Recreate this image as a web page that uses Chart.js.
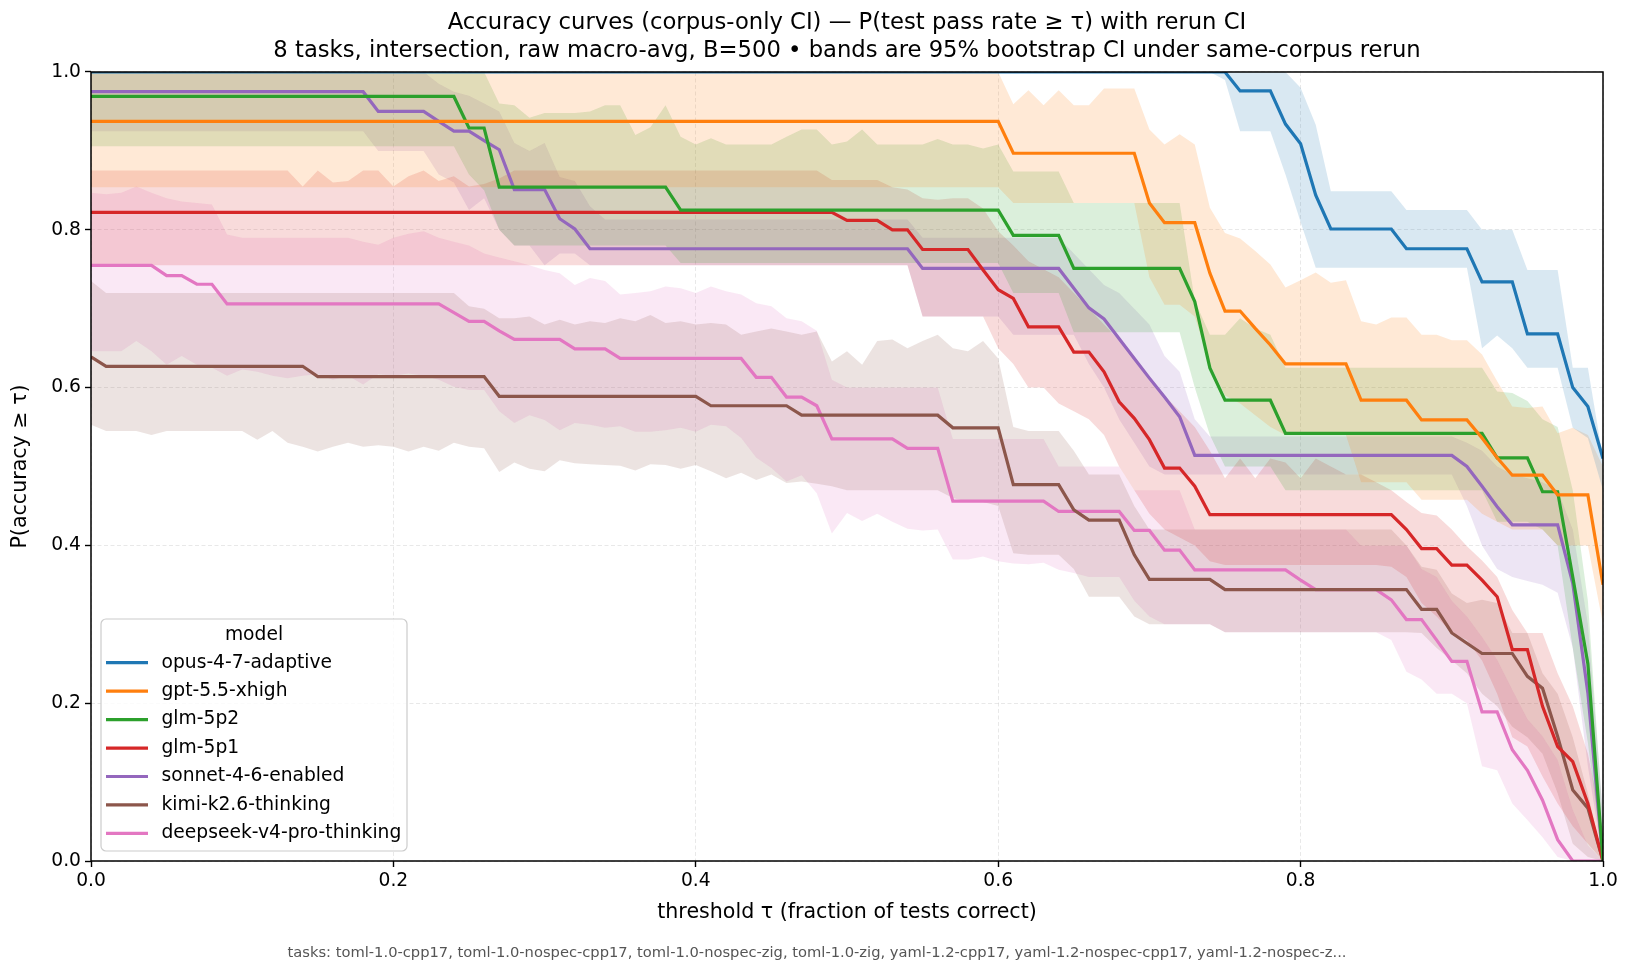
<html><head><meta charset="UTF-8">
<title>Accuracy curves (corpus-only CI)</title>
<style>
    body, html {
        margin: 0;
        padding: 0;
        background-color: #fff;
    }
    #wrap {
        width: 1634px;
        height: 978px;
    }
</style>
<script src="https://cdn.jsdelivr.net/npm/chart.js@4"></script>
</head>
<body>
<div id="wrap"><canvas id="accChart" width="1634" height="978"></canvas></div>
<script>
// threshold grid 0.00 .. 1.00
const TAU = Array.from({length: 101}, (_, i) => i / 100);
const X_TICKS = [0, 0.2, 0.4, 0.6, 0.8, 1.0];
const Y_TICKS = [0, 0.2, 0.4, 0.6, 0.8, 1.0];

const MODELS = ['opus-4-7-adaptive', 'gpt-5.5-xhigh', 'glm-5p2', 'glm-5p1',
                'sonnet-4-6-enabled', 'kimi-k2.6-thinking', 'deepseek-v4-pro-thinking'];
const COLORS = ['#1f77b4', '#ff7f0e', '#2ca02c', '#d62728', '#9467bd', '#8c564b', '#e377c2'];

const TITLE = ['Accuracy curves (corpus-only CI) \u2014 P(test pass rate \u2265 \u03c4) with rerun CI',
               '8 tasks, intersection, raw macro-avg, B=500 \u2022 bands are 95% bootstrap CI under same-corpus rerun'];
const X_LABEL = 'threshold \u03c4 (fraction of tests correct)';
const Y_LABEL = 'P(accuracy \u2265 \u03c4)';
const LEGEND_TITLE = 'model';
const FOOTER = 'tasks: toml-1.0-cpp17, toml-1.0-nospec-cpp17, toml-1.0-nospec-zig, toml-1.0-zig, yaml-1.2-cpp17, yaml-1.2-nospec-cpp17, yaml-1.2-nospec-z...';

// opus-4-7-adaptive
const OPUS = [
 1,1,1,1,1,1,1,1,1,1,
 1,1,1,1,1,1,1,1,1,1,
 1,1,1,1,1,1,1,1,1,1,
 1,1,1,1,1,1,1,1,1,1,
 1,1,1,1,1,1,1,1,1,1,
 1,1,1,1,1,1,1,1,1,1,
 1,1,1,1,1,1,1,1,1,1,
 1,1,1,1,1,1,0.976,0.976,0.976,0.934,
 0.909,0.844,0.801,0.801,0.801,0.801,0.801,0.776,0.776,0.776,
 0.776,0.776,0.734,0.734,0.734,0.668,0.668,0.668,0.600,0.576,
 0.51];
const OPUS_HI = [
 1,1,1,1,1,1,1,1,1,1,
 1,1,1,1,1,1,1,1,1,1,
 1,1,1,1,1,1,1,1,1,1,
 1,1,1,1,1,1,1,1,1,1,
 1,1,1,1,1,1,1,1,1,1,
 1,1,1,1,1,1,1,1,1,1,
 1,1,1,1,1,1,1,1,1,1,
 1,1,1,1,1,1,1,1,1,1,
 0.98,0.933,0.849,0.849,0.849,0.849,0.849,0.825,0.825,0.825,
 0.825,0.825,0.80,0.80,0.80,0.749,0.749,0.749,0.625,0.625,
 0.51];
const OPUS_LO = [
 1,1,1,1,1,1,1,1,1,1,
 1,1,1,1,1,1,1,1,1,1,
 1,1,1,1,1,1,1,1,1,1,
 1,1,1,1,1,1,1,1,1,1,
 1,1,1,1,1,1,1,1,1,1,
 1,1,1,1,1,1,1,1,1,1,
 1,1,1,1,1,1,1,1,1,1,
 1,1,1,1,1,0.99,0.925,0.925,0.925,0.87,
 0.81,0.752,0.752,0.752,0.752,0.752,0.752,0.752,0.752,0.752,
 0.752,0.752,0.65,0.666,0.65,0.625,0.625,0.625,0.549,0.536,
 0.47];

// gpt-5.5-xhigh
const GPT = [
 0.9375,0.9375,0.9375,0.9375,0.9375,0.9375,0.9375,0.9375,0.9375,0.9375,
 0.9375,0.9375,0.9375,0.9375,0.9375,0.9375,0.9375,0.9375,0.9375,0.9375,
 0.9375,0.9375,0.9375,0.9375,0.9375,0.9375,0.9375,0.9375,0.9375,0.9375,
 0.9375,0.9375,0.9375,0.9375,0.9375,0.9375,0.9375,0.9375,0.9375,0.9375,
 0.9375,0.9375,0.9375,0.9375,0.9375,0.9375,0.9375,0.9375,0.9375,0.9375,
 0.9375,0.9375,0.9375,0.9375,0.9375,0.9375,0.9375,0.9375,0.9375,0.9375,
 0.9375,0.897,0.897,0.897,0.897,0.897,0.897,0.897,0.897,0.897,
 0.834,0.809,0.809,0.809,0.745,0.697,0.697,0.675,0.654,0.630,
 0.630,0.630,0.630,0.630,0.584,0.584,0.584,0.584,0.559,0.559,
 0.559,0.559,0.536,0.511,0.489,0.489,0.489,0.464,0.464,0.464,
 0.35];
const GPT_HI = [
 1,1,1,1,1,1,1,1,1,1,
 1,1,1,1,1,1,1,1,1,1,
 1,1,1,1,1,1,1,1,1,1,
 1,1,1,1,1,1,1,1,1,1,
 1,1,1,1,1,1,1,1,1,1,
 1,1,1,1,1,1,1,1,1,1,
 1,0.959,0.977,0.958,0.977,0.958,0.958,0.979,0.979,0.979,
 0.927,0.908,0.921,0.908,0.828,0.796,0.789,0.773,0.756,0.727,
 0.736,0.746,0.733,0.736,0.684,0.68,0.689,0.689,0.667,0.667,
 0.66,0.66,0.642,0.608,0.576,0.574,0.576,0.542,0.549,0.54,
 0.50];
const GPT_LO = [
 0.854,0.854,0.854,0.854,0.854,0.854,0.854,0.854,0.854,0.854,
 0.854,0.854,0.854,0.854,0.854,0.854,0.854,0.854,0.854,0.854,
 0.854,0.854,0.854,0.854,0.854,0.854,0.854,0.854,0.854,0.854,
 0.854,0.854,0.854,0.854,0.854,0.854,0.854,0.854,0.854,0.854,
 0.854,0.854,0.854,0.854,0.854,0.854,0.854,0.854,0.854,0.854,
 0.854,0.854,0.854,0.854,0.854,0.854,0.854,0.854,0.854,0.854,
 0.854,0.834,0.834,0.834,0.834,0.834,0.834,0.834,0.834,0.834,
 0.74,0.705,0.705,0.69,0.63,0.59,0.58,0.565,0.55,0.54,
 0.54,0.54,0.54,0.54,0.48,0.48,0.48,0.48,0.458,0.458,
 0.458,0.458,0.44,0.43,0.42,0.42,0.42,0.40,0.40,0.40,
 0.30];

// glm-5p2
const GLM52 = [
 0.969,0.969,0.969,0.969,0.969,0.969,0.969,0.969,0.969,0.969,
 0.969,0.969,0.969,0.969,0.969,0.969,0.969,0.969,0.969,0.969,
 0.969,0.969,0.969,0.969,0.969,0.929,0.929,0.854,0.854,0.854,
 0.854,0.854,0.854,0.854,0.854,0.854,0.854,0.854,0.854,0.825,
 0.825,0.825,0.825,0.825,0.825,0.825,0.825,0.825,0.825,0.825,
 0.825,0.825,0.825,0.825,0.825,0.825,0.825,0.825,0.825,0.825,
 0.825,0.793,0.793,0.793,0.793,0.751,0.751,0.751,0.751,0.751,
 0.751,0.751,0.751,0.709,0.625,0.584,0.584,0.584,0.584,0.542,
 0.542,0.542,0.542,0.542,0.542,0.542,0.542,0.542,0.542,0.542,
 0.542,0.542,0.542,0.511,0.511,0.511,0.468,0.468,0.36,0.25,
 0];
const GLM52_HI = [
 1,1,1,1,1,1,1,1,1,1,
 1,1,1,1,1,1,1,1,1,1,
 1,1,1,1,1,1,1,0.96,0.958,0.942,
 0.948,0.948,0.948,0.95,0.958,0.958,0.92,0.93,0.958,0.918,
 0.908,0.916,0.908,0.908,0.908,0.908,0.918,0.927,0.927,0.908,
 0.912,0.927,0.908,0.908,0.908,0.908,0.915,0.908,0.908,0.903,
 0.908,0.874,0.874,0.874,0.874,0.834,0.834,0.834,0.834,0.834,
 0.834,0.834,0.834,0.71,0.667,0.667,0.688,0.675,0.667,0.625,
 0.625,0.625,0.625,0.625,0.625,0.625,0.625,0.625,0.625,0.625,
 0.625,0.625,0.625,0.595,0.593,0.583,0.56,0.55,0.47,0.33,
 0.05];
const GLM52_LO = [
 0.906,0.906,0.906,0.906,0.906,0.906,0.906,0.906,0.906,0.906,
 0.906,0.906,0.906,0.906,0.906,0.906,0.906,0.906,0.906,0.906,
 0.906,0.906,0.906,0.906,0.906,0.87,0.85,0.80,0.78,0.78,
 0.78,0.78,0.78,0.78,0.78,0.78,0.78,0.78,0.78,0.758,
 0.758,0.758,0.758,0.758,0.758,0.758,0.758,0.758,0.758,0.758,
 0.758,0.758,0.758,0.758,0.758,0.758,0.758,0.758,0.758,0.758,
 0.758,0.72,0.72,0.72,0.72,0.67,0.67,0.67,0.67,0.67,
 0.67,0.67,0.67,0.60,0.54,0.50,0.50,0.50,0.50,0.47,
 0.47,0.47,0.47,0.47,0.47,0.47,0.47,0.47,0.47,0.47,
 0.47,0.47,0.47,0.43,0.43,0.43,0.42,0.40,0.27,0.15,
 0];

// glm-5p1
const GLM51 = [
 0.822,0.822,0.822,0.822,0.822,0.822,0.822,0.822,0.822,0.822,
 0.822,0.822,0.822,0.822,0.822,0.822,0.822,0.822,0.822,0.822,
 0.822,0.822,0.822,0.822,0.822,0.822,0.822,0.822,0.822,0.822,
 0.822,0.822,0.822,0.822,0.822,0.822,0.822,0.822,0.822,0.822,
 0.822,0.822,0.822,0.822,0.822,0.822,0.822,0.822,0.822,0.822,
 0.812,0.812,0.812,0.800,0.800,0.775,0.775,0.775,0.775,0.749,
 0.724,0.713,0.677,0.677,0.677,0.645,0.645,0.620,0.582,0.561,
 0.534,0.498,0.498,0.475,0.439,0.439,0.439,0.439,0.439,0.439,
 0.439,0.439,0.439,0.439,0.439,0.439,0.439,0.420,0.396,0.396,
 0.375,0.375,0.356,0.335,0.268,0.268,0.196,0.145,0.126,0.073,
 0];
const GLM51_HI = [
 0.875,0.875,0.875,0.875,0.875,0.875,0.875,0.875,0.875,0.875,
 0.875,0.875,0.875,0.875,0.855,0.875,0.86,0.862,0.875,0.875,
 0.855,0.868,0.875,0.862,0.868,0.855,0.858,0.865,0.875,0.875,
 0.875,0.875,0.875,0.875,0.875,0.875,0.875,0.875,0.875,0.875,
 0.875,0.875,0.875,0.875,0.875,0.875,0.875,0.875,0.875,0.863,
 0.863,0.863,0.863,0.854,0.851,0.840,0.838,0.840,0.840,0.827,
 0.798,0.78,0.76,0.75,0.74,0.72,0.70,0.68,0.66,0.64,
 0.61,0.59,0.57,0.55,0.52,0.485,0.51,0.485,0.51,0.505,
 0.485,0.51,0.50,0.49,0.49,0.48,0.47,0.455,0.441,0.438,
 0.42,0.399,0.381,0.36,0.318,0.289,0.289,0.238,0.196,0.136,
 0.04];
const GLM51_LO = [
 0.755,0.755,0.755,0.755,0.755,0.755,0.755,0.755,0.755,0.755,
 0.755,0.755,0.755,0.755,0.755,0.755,0.755,0.755,0.755,0.755,
 0.755,0.755,0.755,0.755,0.755,0.755,0.755,0.755,0.755,0.755,
 0.755,0.755,0.755,0.755,0.755,0.755,0.755,0.755,0.755,0.755,
 0.755,0.755,0.755,0.755,0.755,0.755,0.755,0.755,0.755,0.755,
 0.755,0.755,0.755,0.755,0.755,0.69,0.69,0.69,0.69,0.69,
 0.65,0.63,0.60,0.60,0.58,0.57,0.56,0.54,0.50,0.47,
 0.44,0.42,0.41,0.40,0.38,0.375,0.375,0.375,0.375,0.375,
 0.375,0.375,0.375,0.375,0.375,0.375,0.373,0.36,0.327,0.31,
 0.289,0.28,0.254,0.212,0.157,0.145,0.107,0.073,0.044,0.022,
 0];

// sonnet-4-6-enabled
const SONNET = [
 0.975,0.975,0.975,0.975,0.975,0.975,0.975,0.975,0.975,0.975,
 0.975,0.975,0.975,0.975,0.975,0.975,0.975,0.975,0.975,0.950,
 0.950,0.950,0.950,0.9375,0.925,0.925,0.913,0.9015,0.851,0.851,
 0.851,0.814,0.801,0.776,0.776,0.776,0.776,0.776,0.776,0.776,
 0.776,0.776,0.776,0.776,0.776,0.776,0.776,0.776,0.776,0.776,
 0.776,0.776,0.776,0.776,0.776,0.751,0.751,0.751,0.751,0.751,
 0.751,0.751,0.751,0.751,0.751,0.726,0.701,0.687,0.662,0.637,
 0.612,0.588,0.563,0.514,0.514,0.514,0.514,0.514,0.514,0.514,
 0.514,0.514,0.514,0.514,0.514,0.514,0.514,0.514,0.514,0.514,
 0.514,0.50,0.475,0.449,0.426,0.426,0.426,0.426,0.352,0.213,
 0];
const SONNET_HI = [
 1,1,1,1,1,1,1,1,1,1,
 1,1,1,1,1,1,1,1,1,1,
 1,1,1,0.985,0.975,0.97,0.96,0.95,0.91,0.90,
 0.91,0.867,0.862,0.83,0.813,0.813,0.813,0.813,0.813,0.813,
 0.813,0.813,0.813,0.813,0.813,0.813,0.813,0.813,0.813,0.813,
 0.813,0.813,0.813,0.813,0.813,0.79,0.79,0.79,0.79,0.79,
 0.79,0.79,0.79,0.79,0.79,0.77,0.75,0.73,0.72,0.70,
 0.68,0.64,0.62,0.56,0.538,0.538,0.538,0.538,0.538,0.538,
 0.538,0.538,0.538,0.538,0.538,0.538,0.538,0.538,0.538,0.538,
 0.538,0.53,0.52,0.50,0.49,0.485,0.48,0.47,0.42,0.30,
 0.06];
const SONNET_LO = [
 0.925,0.925,0.925,0.925,0.925,0.925,0.925,0.925,0.925,0.925,
 0.925,0.925,0.925,0.925,0.925,0.925,0.925,0.925,0.925,0.90,
 0.90,0.90,0.90,0.87,0.86,0.825,0.84,0.80,0.78,0.78,
 0.755,0.77,0.77,0.755,0.755,0.755,0.755,0.755,0.755,0.755,
 0.755,0.755,0.755,0.755,0.755,0.755,0.755,0.755,0.755,0.755,
 0.755,0.755,0.755,0.755,0.755,0.69,0.69,0.69,0.69,0.69,
 0.69,0.667,0.667,0.667,0.667,0.667,0.63,0.60,0.56,0.53,
 0.50,0.49,0.49,0.49,0.49,0.49,0.49,0.49,0.49,0.49,
 0.49,0.49,0.49,0.49,0.49,0.49,0.49,0.49,0.49,0.49,
 0.49,0.45,0.40,0.37,0.36,0.355,0.35,0.34,0.27,0.12,
 0];

// kimi-k2.6-thinking
const KIMI = [
 0.639,0.627,0.627,0.627,0.627,0.627,0.627,0.627,0.627,0.627,
 0.627,0.627,0.627,0.627,0.627,0.614,0.614,0.614,0.614,0.614,
 0.614,0.614,0.614,0.614,0.614,0.614,0.614,0.589,0.589,0.589,
 0.589,0.589,0.589,0.589,0.589,0.589,0.589,0.589,0.589,0.589,
 0.589,0.577,0.577,0.577,0.577,0.577,0.577,0.565,0.565,0.565,
 0.565,0.565,0.565,0.565,0.565,0.565,0.565,0.549,0.549,0.549,
 0.549,0.477,0.477,0.477,0.477,0.445,0.432,0.432,0.432,0.388,
 0.357,0.357,0.357,0.357,0.357,0.344,0.344,0.344,0.344,0.344,
 0.344,0.344,0.344,0.344,0.344,0.344,0.344,0.344,0.319,0.319,
 0.289,0.276,0.263,0.263,0.263,0.234,0.219,0.158,0.09,0.067,
 0];
const KIMI_HI = [
 0.735,0.72,0.72,0.72,0.72,0.72,0.72,0.72,0.72,0.72,
 0.72,0.72,0.72,0.72,0.72,0.72,0.72,0.72,0.72,0.72,
 0.72,0.72,0.72,0.72,0.72,0.703,0.70,0.688,0.688,0.69,
 0.68,0.686,0.68,0.684,0.682,0.688,0.684,0.692,0.682,0.684,
 0.68,0.682,0.68,0.667,0.671,0.675,0.671,0.667,0.671,0.633,
 0.646,0.629,0.659,0.661,0.65,0.659,0.667,0.65,0.646,0.659,
 0.637,0.55,0.545,0.545,0.545,0.52,0.49,0.49,0.49,0.45,
 0.42,0.42,0.42,0.42,0.42,0.42,0.42,0.42,0.42,0.42,
 0.42,0.42,0.42,0.42,0.42,0.42,0.42,0.40,0.373,0.369,
 0.339,0.327,0.331,0.327,0.289,0.289,0.238,0.212,0.157,0.086,
 0];
const KIMI_LO = [
 0.553,0.545,0.545,0.545,0.54,0.545,0.545,0.545,0.545,0.545,
 0.545,0.534,0.545,0.53,0.525,0.519,0.525,0.53,0.525,0.527,
 0.525,0.519,0.525,0.52,0.53,0.525,0.523,0.493,0.505,0.497,
 0.494,0.508,0.504,0.503,0.502,0.501,0.495,0.503,0.502,0.497,
 0.502,0.494,0.485,0.492,0.483,0.49,0.479,0.481,0.478,0.475,
 0.47,0.47,0.47,0.47,0.47,0.47,0.47,0.46,0.455,0.455,
 0.45,0.39,0.388,0.388,0.388,0.37,0.335,0.335,0.335,0.31,
 0.30,0.30,0.30,0.30,0.30,0.29,0.29,0.29,0.29,0.29,
 0.29,0.29,0.29,0.29,0.29,0.29,0.29,0.29,0.289,0.27,
 0.254,0.238,0.212,0.196,0.17,0.157,0.136,0.086,0.022,0.005,
 0];

// deepseek-v4-pro-thinking
const DEEPSEEK = [
 0.755,0.755,0.755,0.755,0.755,0.742,0.742,0.731,0.731,0.706,
 0.706,0.706,0.706,0.706,0.706,0.706,0.706,0.706,0.706,0.706,
 0.706,0.706,0.706,0.706,0.695,0.684,0.684,0.672,0.661,0.661,
 0.661,0.661,0.649,0.649,0.649,0.637,0.637,0.637,0.637,0.637,
 0.637,0.637,0.637,0.637,0.613,0.613,0.588,0.588,0.577,0.535,
 0.535,0.535,0.535,0.535,0.523,0.523,0.523,0.456,0.456,0.456,
 0.456,0.456,0.456,0.456,0.443,0.443,0.443,0.443,0.443,0.419,
 0.419,0.394,0.394,0.369,0.369,0.369,0.369,0.369,0.369,0.369,
 0.356,0.344,0.344,0.344,0.344,0.344,0.331,0.306,0.306,0.280,
 0.253,0.253,0.189,0.189,0.141,0.115,0.077,0.027,0,0,
 0];
const DEEPSEEK_HI = [
 0.847,0.845,0.847,0.855,0.847,0.84,0.836,0.834,0.832,0.794,
 0.79,0.79,0.79,0.79,0.79,0.79,0.79,0.79,0.785,0.781,
 0.79,0.795,0.798,0.79,0.785,0.78,0.77,0.765,0.76,0.755,
 0.749,0.745,0.73,0.739,0.735,0.718,0.72,0.722,0.728,0.726,
 0.72,0.728,0.722,0.718,0.707,0.703,0.688,0.684,0.672,0.61,
 0.60,0.60,0.60,0.60,0.60,0.60,0.60,0.535,0.535,0.535,
 0.535,0.535,0.535,0.535,0.50,0.50,0.50,0.50,0.50,0.47,
 0.47,0.47,0.47,0.42,0.42,0.42,0.42,0.42,0.42,0.42,
 0.42,0.42,0.42,0.42,0.40,0.40,0.40,0.40,0.37,0.36,
 0.33,0.31,0.284,0.255,0.217,0.18,0.158,0.128,0.065,0.02,
 0];
const DEEPSEEK_LO = [
 0.646,0.646,0.646,0.659,0.646,0.629,0.64,0.629,0.625,0.615,
 0.623,0.62,0.615,0.612,0.615,0.617,0.61,0.615,0.604,0.617,
 0.615,0.618,0.615,0.61,0.601,0.597,0.597,0.57,0.555,0.565,
 0.559,0.546,0.555,0.553,0.549,0.551,0.544,0.544,0.546,0.549,
 0.544,0.553,0.551,0.536,0.511,0.498,0.481,0.489,0.466,0.415,
 0.441,0.431,0.44,0.43,0.421,0.419,0.42,0.382,0.382,0.386,
 0.38,0.377,0.376,0.378,0.369,0.365,0.36,0.36,0.36,0.33,
 0.31,0.30,0.30,0.30,0.30,0.29,0.29,0.29,0.29,0.29,
 0.29,0.29,0.29,0.29,0.29,0.29,0.28,0.24,0.23,0.212,
 0.212,0.20,0.12,0.115,0.073,0.052,0.03,0.005,0,0,
 0];

const MIDS = [OPUS, GPT, GLM52, GLM51, SONNET, KIMI, DEEPSEEK];
const LOS  = [OPUS_LO, GPT_LO, GLM52_LO, GLM51_LO, SONNET_LO, KIMI_LO, DEEPSEEK_LO];
const HIS  = [OPUS_HI, GPT_HI, GLM52_HI, GLM51_HI, SONNET_HI, KIMI_HI, DEEPSEEK_HI];

[MIDS, LOS, HIS].forEach((group, g) => group.forEach((arr, k) => {
    if (arr.length !== TAU.length) throw new Error('length ' + g + '/' + k + ' = ' + arr.length);
}));

const FONT = 'DejaVu Sans';

function alpha(hex, a) {
    const n = parseInt(hex.slice(1), 16);
    return 'rgba(' + (n >> 16) + ',' + ((n >> 8) & 255) + ',' + (n & 255) + ',' + a + ')';
}
function pts(arr) {
    return arr.map((y, i) => ({x: TAU[i], y: y}));
}

const datasets = [];
MODELS.forEach((m, k) => {
    datasets.push({
        label: m + ' lo', data: pts(LOS[k]), borderWidth: 0, pointRadius: 0,
        fill: false, order: 2, borderColor: 'rgba(0,0,0,0)'
    });
    datasets.push({
        label: m + ' hi', data: pts(HIS[k]), borderWidth: 0, pointRadius: 0,
        fill: '-1', backgroundColor: alpha(COLORS[k], 0.17), order: 2, borderColor: 'rgba(0,0,0,0)'
    });
});
MODELS.forEach((m, k) => {
    datasets.push({
        label: m, data: pts(MIDS[k]), borderColor: COLORS[k], borderWidth: 3.2,
        pointRadius: 0, fill: false, order: 1, tension: 0
    });
});

// axes frame (all four spines), legend box in the lower left, footer note
const frameAndLegend = {
    id: 'frameAndLegend',
    afterDatasetsDraw(chart) {
        const {ctx, chartArea: a} = chart;
        ctx.save();
        ctx.strokeStyle = '#000';
        ctx.lineWidth = 1.5;
        ctx.strokeRect(a.left, a.top, a.right - a.left, a.bottom - a.top);
        ctx.restore();
    },
    afterDraw(chart) {
        const {ctx, chartArea: a} = chart;
        const w = 306, h = 232;
        const x = a.left + 10, y = a.bottom - 10 - h;
        ctx.save();
        ctx.beginPath();
        ctx.roundRect(x, y, w, h, 5);
        ctx.fillStyle = 'rgba(255,255,255,0.8)';
        ctx.fill();
        ctx.strokeStyle = '#cccccc';
        ctx.lineWidth = 1.2;
        ctx.stroke();
        ctx.fillStyle = '#000';
        ctx.font = '18.7px "' + FONT + '"';
        ctx.textBaseline = 'middle';
        ctx.textAlign = 'center';
        ctx.fillText(LEGEND_TITLE, x + w / 2, y + 16);
        ctx.textAlign = 'left';
        MODELS.forEach((m, i) => {
            const yy = y + 43.7 + i * 28.45;
            ctx.strokeStyle = COLORS[i];
            ctx.lineWidth = 3.2;
            ctx.beginPath();
            ctx.moveTo(x + 5, yy);
            ctx.lineTo(x + 47, yy);
            ctx.stroke();
            ctx.fillStyle = '#000';
            ctx.fillText(m, x + 60.5, yy);
        });
        // footer across the whole figure
        ctx.fillStyle = '#555';
        ctx.font = '14.7px "' + FONT + '"';
        ctx.textAlign = 'center';
        ctx.fillText(FOOTER, chart.width / 2, 953);
        ctx.restore();
    }
};

const tickFmt = v => Number(v).toFixed(1);

new Chart(document.getElementById('accChart').getContext('2d'), {
    type: 'line',
    data: {datasets: datasets},
    options: {
        responsive: false,
        animation: false,
        events: [],
        layout: {padding: {left: 0, right: 31, top: 0, bottom: 38}},
        plugins: {
            legend: {display: false},
            tooltip: {enabled: false},
            title: {
                display: true, text: TITLE, color: '#000', fullSize: false,
                font: {family: FONT, size: 22.7, weight: 'normal', lineHeight: 1.24},
                padding: {top: 9, bottom: 6.7}
            }
        },
        scales: {
            x: {
                type: 'linear', min: 0, max: 1,
                afterBuildTicks: s => { s.ticks = X_TICKS.map(v => ({value: v})); },
                ticks: {callback: tickFmt, color: '#000', font: {family: FONT, size: 18.7}, padding: 3, maxRotation: 0},
                grid: {color: 'rgba(0,0,0,0.1)', lineWidth: 0.9, tickColor: '#000', tickLength: 6, tickWidth: 1.4},
                border: {display: false, dash: [4, 2.5]},
                title: {display: true, text: X_LABEL, color: '#000', font: {family: FONT, size: 20.6}, padding: {top: 4, bottom: 14.6}},
                afterFit: s => { s.height = 79; }
            },
            y: {
                type: 'linear', min: 0, max: 1,
                afterBuildTicks: s => { s.ticks = Y_TICKS.map(v => ({value: v})); },
                ticks: {callback: tickFmt, color: '#000', font: {family: FONT, size: 18.7}, padding: 4},
                grid: {color: 'rgba(0,0,0,0.1)', lineWidth: 0.9, tickColor: '#000', tickLength: 6, tickWidth: 1.4},
                border: {display: false, dash: [4, 2.5]},
                title: {display: true, text: Y_LABEL, color: '#000', font: {family: FONT, size: 20.6}, padding: {top: 8.6, bottom: 0}},
                afterFit: s => { s.width = 91; }
            }
        }
    },
    plugins: [frameAndLegend]
});
</script>
</body>
</html>
